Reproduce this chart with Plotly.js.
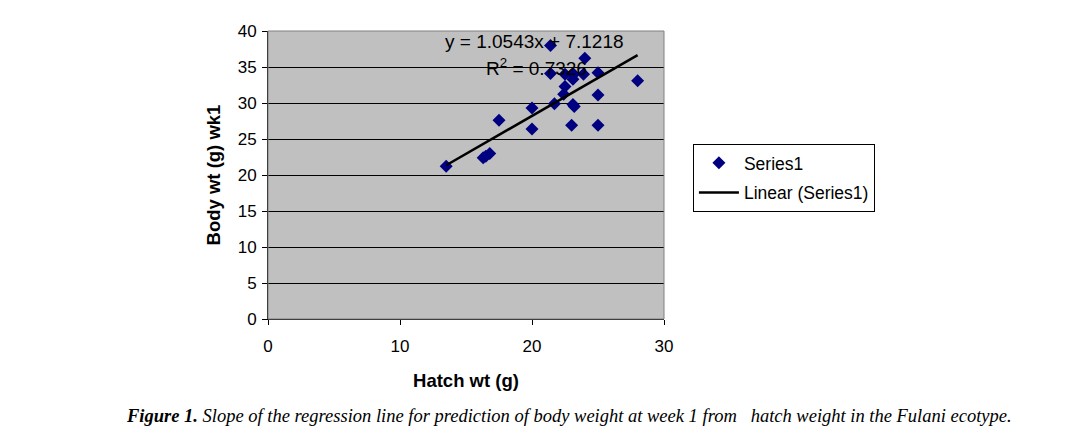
<!DOCTYPE html>
<html>
<head>
<meta charset="utf-8">
<script src="https://cdn.plot.ly/plotly-3.0.1.min.js"></script>
<style>html,body{margin:0;padding:0;background:#fff;}#chart{width:1088px;height:436px;}</style>
</head>
<body>
<div id="chart"></div>
<script>
// Hatch weight (g)
const hatchWt = [13.5, 16.3, 16.5, 16.8, 17.5, 20.0, 20.0, 21.4, 21.4, 21.7,
                 22.4, 22.5, 22.5, 23.0, 23.1, 23.1, 23.1, 23.2, 23.1, 23.9,
                 24.0, 25.0, 25.0, 25.0, 28.0];
// Body weight at week 1 (g)
const bodyWt1 = [21.2, 22.4, 22.6, 23.0, 27.6, 29.3, 26.4, 38.0, 34.1, 29.9,
                 31.2, 34.0, 32.3, 26.9, 33.9, 33.3, 29.8, 29.5, 34.1, 34.0,
                 36.2, 34.2, 31.1, 26.9, 33.1];
// Regression coefficients shown on the chart
const slope = 1.0543, intercept = 7.1218, r2 = 0.7326;
const xTicks = [0, 10, 20, 30];
const yTicks = [0, 5, 10, 15, 20, 25, 30, 35, 40];

const xmin = Math.min(...hatchWt), xmax = Math.max(...hatchWt);
const fitX = [xmin, xmax];
const fitY = fitX.map(x => slope * x + intercept);

const traces = [
  {x: hatchWt, y: bodyWt1, type: 'scatter', mode: 'markers', name: 'Series1', legendgroup: 'a',
   marker: {symbol: 'diamond', size: 10, color: '#000080'}},
  {x: fitX, y: fitY, type: 'scatter', mode: 'lines', name: 'Linear (Series1)', legendgroup: 'b',
   line: {color: '#000000', width: 2.5}}
];

const layout = {
  width: 1088, height: 436,
  margin: {l: 268, r: 424, t: 31, b: 117, pad: 0},
  paper_bgcolor: '#ffffff', plot_bgcolor: '#c0c0c0',
  font: {family: 'Arial, Liberation Sans, sans-serif', size: 17, color: '#000'},
  showlegend: true,
  legend: {x: 1.073, y: 0.608, xanchor: 'left', yanchor: 'top',
    bgcolor: '#ffffff', bordercolor: '#000000', borderwidth: 1,
    font: {size: 17.5, family: 'Arial, Liberation Sans, sans-serif'}, tracegroupgap: 4, itemwidth: 40},
  xaxis: {range: [0, 30], tickvals: xTicks, ticktext: xTicks.map(String),
    showgrid: false, zeroline: false, showline: true, linecolor: '#000', linewidth: 1,
    ticks: 'outside', ticklen: 5, tickcolor: '#000', mirror: false,
    tickfont: {size: 17}, ticklabelstandoff: 7,
    title: {text: '<b>Hatch wt (g)</b>', font: {size: 18.5}, standoff: 18}},
  yaxis: {range: [0, 40], tickvals: yTicks, ticktext: yTicks.map(String),
    showgrid: true, gridcolor: '#000000', gridwidth: 1, zeroline: false,
    showline: true, linecolor: '#000', linewidth: 1,
    ticks: 'outside', ticklen: 5, tickcolor: '#000',
    tickfont: {size: 17}, ticklabelstandoff: 2,
    title: {text: '<b>Body wt (g) wk1</b>', font: {size: 18.5}, standoff: 12}},
  shapes: [
    {type: 'rect', xref: 'paper', yref: 'paper', x0: 0, x1: 1, y0: 0, y1: 1,
     line: {color: '#808080', width: 1}, fillcolor: 'rgba(0,0,0,0)', layer: 'above'}
  ],
  annotations: [
    {xref: 'paper', yref: 'paper', x: 0.672, y: 0.962, xanchor: 'center', yanchor: 'middle',
     text: 'y = ' + slope.toFixed(4) + 'x + ' + intercept.toFixed(4), showarrow: false,
     font: {size: 19}},
    {xref: 'paper', yref: 'paper', x: 0.679, y: 0.875, xanchor: 'center', yanchor: 'middle',
     text: 'R<sup>2</sup> = ' + r2.toFixed(4), showarrow: false, font: {size: 19}},
    {xref: 'paper', yref: 'paper', x: (569 - 268) / 396, y: (319 - 416) / 288,
     xanchor: 'center', yanchor: 'middle', showarrow: false,
     text: '<b><i>Figure 1.</i></b><i> Slope of the regression line for prediction of body weight at week 1 from &nbsp; hatch weight in the Fulani ecotype.</i>',
     font: {family: 'Liberation Serif, Times New Roman, serif', size: 18.5}}
  ]
};

Plotly.newPlot('chart', traces, layout, {displayModeBar: false, staticPlot: true});
</script>
</body>
</html>
